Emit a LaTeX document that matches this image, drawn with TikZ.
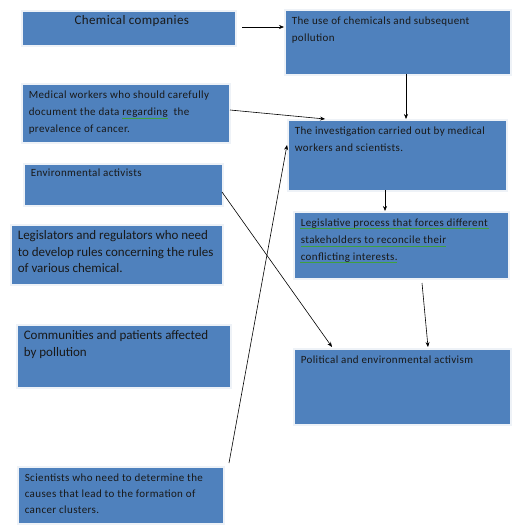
\documentclass[tikz,border=0pt]{standalone}
\usepackage{fontspec}
\setmainfont{Carlito}
\usetikzlibrary{arrows.meta}
\definecolor{boxblue}{HTML}{4F81BD}
\definecolor{boxrim}{HTML}{EEF2F7}
\definecolor{boxshadow}{HTML}{A3AAB2}
\definecolor{spellgreen}{HTML}{3FA03F}
\newsavebox\gsqbox
\newlength\gsqwd
\newcommand\gsq[1]{\leavevmode\sbox\gsqbox{#1}\setlength\gsqwd{\wd\gsqbox}\usebox\gsqbox\llap{\textcolor{spellgreen}{\rule[-3pt]{\gsqwd}{0.9pt}}}}
\newcommand\smalltxt{\fontsize{11}{17}\selectfont\addfontfeatures{LetterSpace=3.5}\raggedright}
\newcommand\bigtxt{\fontsize{13}{16.5}\selectfont\raggedright}
\tikzset{
  bluebox/.style={rectangle, fill=boxblue, draw=boxrim, line width=1.6pt, inner xsep=7pt, inner ysep=6pt, anchor=north west, text=black!90},
  conn/.style={-{Stealth[length=5pt,width=4pt]}, line width=0.6pt, black},
  spellline/.style={draw=spellgreen, line width=0.9pt},
}
% name, x, y, w, h, font/alignment, text
\newcommand\bluebx[7]{%
  \fill[boxshadow] (#2+2.2,#3+2.2) rectangle ++(#4,#5);
  \node[bluebox, minimum width=#4pt, minimum height=#5pt] (#1) at (#2,#3)
    {\parbox[c][\dimexpr#5pt-12pt\relax][t]{\dimexpr#4pt-14pt\relax}{#6#7}};
}
\begin{document}
\begin{tikzpicture}[x=1pt,y=-1pt]
\useasboundingbox (0,0) rectangle (521,532);
\fill[white] (0,0) rectangle (521,532);
\bluebx{cc}{21}{10}{214}{35}{\fontsize{13}{17}\selectfont\addfontfeatures{LetterSpace=3}\centering\vspace*{-1pt}\hspace*{6pt}}{Chemical companies}
\bluebx{use}{284}{9}{226}{65}{\smalltxt\vspace*{1.5pt}}{The use of chemicals and subsequent\\pollution}
\bluebx{med}{21}{83}{208}{59}{\smalltxt\vspace*{1.5pt}}{Medical workers who should carefully\\document the data \gsq{regarding}\ \ the\\prevalence of cancer.}
\bluebx{inv}{287}{119}{219}{71}{\smalltxt\vspace*{1.5pt}}{The investigation carried out by medical\\workers and scientists.}
\bluebx{env}{23}{163}{199}{42}{\smalltxt\vspace*{-0.5pt}}{Environmental activists}
\bluebx{legr}{10}{224}{212}{60}{\bigtxt}{Legislators and regulators who need\\to develop rules concerning the rules\\of various chemical.}
\bluebx{legp}{293}{211}{215}{67}{\smalltxt\vspace*{1.5pt}}{Legislative process that forces different\\\gsq{stakeholders to reconcile their}\\conflicting interests.}
\bluebx{com}{16}{324}{214}{63}{\bigtxt}{Communities and patients affected\\by pollution}
\bluebx{pol}{293}{348}{217}{76}{\smalltxt\vspace*{1.5pt}}{Political and environmental activism}
\bluebx{sci}{17}{466}{206}{57}{\fontsize{11}{16}\selectfont\addfontfeatures{LetterSpace=3.5}\raggedright\vspace*{1pt}}{Scientists who need to determine the\\causes that lead to the formation of\\cancer clusters.}
% spell-check underlines of the first and last lines of the legislative box
\draw[spellline] ([shift={(7,17.4)}]legp.north west) -- ++(189,0);
\draw[spellline] ([shift={(7,51.4)}]legp.north west) -- ++(97,0);
% connectors
\coordinate (ccA) at (242,27);
\coordinate (useB) at (406,74);
\coordinate (medA) at (230,110);
\coordinate (invM) at (325,119);
\coordinate (sciA) at (229,463);
\coordinate (invL) at (287,145);
\coordinate (invB) at (385,190);
\coordinate (envA) at (222,192);
\coordinate (polL) at (332,347);
\coordinate (legB) at (422,283);
\coordinate (polR) at (428,347);
\draw[conn] (ccA) -- (ccA -| use.west);
\draw[conn] (useB) -- (useB |- inv.north);
\draw[conn] (medA) -- (invM);
\draw[conn] (sciA) -- (invL);
\draw[conn] (invB) -- (invB |- legp.north);
\draw[conn] (envA) -- (polL);
\draw[conn] (legB) -- (polR);
\end{tikzpicture}
\end{document}
